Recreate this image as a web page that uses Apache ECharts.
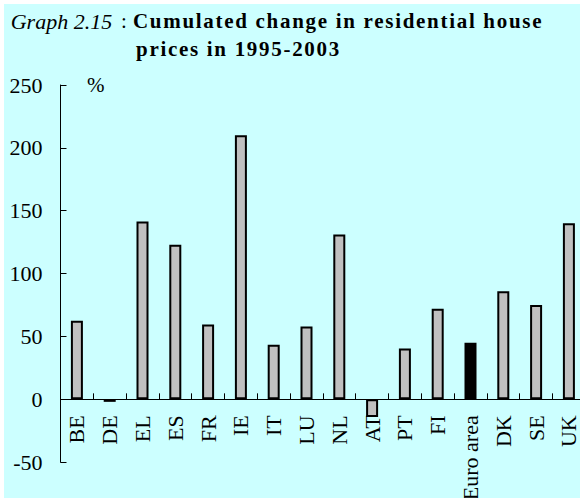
<!DOCTYPE html>
<html><head><meta charset="utf-8">
<script src="https://cdn.jsdelivr.net/npm/echarts@6/dist/echarts.min.js"></script>
<style>
html,body{margin:0;padding:0;background:#fff;}
#chart{position:absolute;left:4px;top:4px;width:576px;height:494px;}
#chart text[style*="bold"]{letter-spacing:1.7px;}
</style></head><body><div id="chart"></div>
<script>
const categories = ['BE','DE','EL','ES','FR','IE','IT','LU','NL','AT','PT','FI','Euro area','DK','SE','UK'];
const values = [62.5,-2,141.5,123,59.5,210,43.5,58,131,-14,40.5,72,45,86,75,140];
const highlightCategory = 'Euro area';
const yMin = -50, yMax = 250, yInterval = 50;
const titleItalic = 'Graph 2.15';
const titleLine1 = 'Cumulated change in residential house';
const titleLine2 = 'prices in 1995-2003';
const unitLabel = '%';

const FONT = "'Liberation Serif','Times New Roman',serif";
const gridTop = 81, gridBottom = 35.8, chartH = 494;
const plotH = chartH - gridTop - gridBottom;
const zeroShift = plotH * (0 - yMin) / (yMax - yMin);
const chart = echarts.init(document.getElementById('chart'), null, {renderer:'svg'});
chart.setOption({
  animation:false,
  backgroundColor:'#CCFFFF',
  grid:{left:56.5, right:-5.3, top:gridTop, bottom:gridBottom, containLabel:false, outerBoundsMode:'none'},
  xAxis:{
    type:'category', data:categories,
    offset: -zeroShift,
    axisLine:{onZero:false, lineStyle:{color:'#000', width:1}},
    axisTick:{show:true, inside:true, length:6, lineStyle:{color:'#000'}},
    axisLabel:{rotate:90, margin:16, color:'#000', fontFamily:FONT, fontSize:22, interval:0},
    splitLine:{show:false}
  },
  yAxis:{
    type:'value', min:yMin, max:yMax, interval:yInterval,
    axisLine:{show:true, lineStyle:{color:'#000', width:1}},
    axisTick:{show:true, inside:true, length:6, lineStyle:{color:'#000'}},
    axisLabel:{margin:18, color:'#000', fontFamily:FONT, fontSize:22},
    splitLine:{show:false}
  },
  series:[{
    type:'bar', barWidth:12,
    data: values.map((v,i)=>({value:v, itemStyle: categories[i]===highlightCategory ? {color:'#000'} : undefined})),
    itemStyle:{color:'#C0C0C0', borderColor:'#000', borderWidth:2}
  }],
  graphic:[
    {type:'text', left:6.7, top:6, style:{text:titleItalic, fontFamily:FONT, fontSize:22, fontStyle:'italic', fill:'#000'}},
    {type:'text', left:117, top:6, style:{text:':', fontFamily:FONT, fontSize:21, fill:'#000'}},
    {type:'text', left:129, top:6, style:{text:titleLine1, fontFamily:FONT, fontSize:21, fontWeight:'bold', fill:'#000'}},
    {type:'text', left:132, top:34, style:{text:titleLine2, fontFamily:FONT, fontSize:21, fontWeight:'bold', fill:'#000'}},
    {type:'text', left:83, top:70, style:{text:unitLabel, fontFamily:FONT, fontSize:21, fill:'#000'}}
  ]
});
</script></body></html>
